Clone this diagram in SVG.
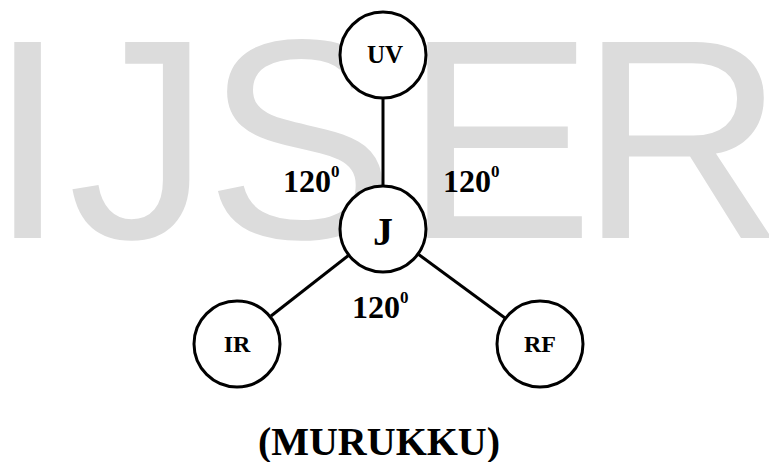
<svg xmlns="http://www.w3.org/2000/svg" width="769" height="462" viewBox="0 0 769 462">
<style>
.wm{font-family:"Liberation Sans",Arial,sans-serif;font-size:285px;fill:#dcdcdc}
.node{fill:#fff;stroke:#000;stroke-width:3}
.lbl{font-family:"Liberation Serif","Times New Roman",serif;font-weight:bold;fill:#000;text-anchor:middle}
.ang{font-family:"Liberation Serif","Times New Roman",serif;font-weight:bold;fill:#000;font-size:32px}
.sup{font-size:17px}
.conn{stroke:#000;stroke-width:3;fill:none}
</style>
<rect width="769" height="462" fill="#fff"/>
<text class="wm" x="-12 68 205 404 579" y="238">IJSER</text>
<g id="connectors">
<line class="conn" x1="383" y1="98" x2="383" y2="186"/>
<line class="conn" x1="349" y1="255" x2="271" y2="316"/>
<line class="conn" x1="418" y1="254" x2="505" y2="318"/>
</g>
<g id="node-UV"><circle class="node" cx="383" cy="55" r="43"/><text class="lbl" x="385" y="63" font-size="25">UV</text></g>
<g id="node-J"><circle class="node" cx="383" cy="229" r="43"/><text class="lbl" x="383" y="245" font-size="40">J</text></g>
<g id="node-IR"><circle class="node" cx="237" cy="344" r="43"/><text class="lbl" x="237" y="352" font-size="24">IR</text></g>
<g id="node-RF"><circle class="node" cx="540" cy="344" r="43"/><text class="lbl" x="540" y="352" font-size="24">RF</text></g>
<g id="labels">
<text class="ang" x="283" y="192">120<tspan class="sup" dy="-15">0</tspan></text>
<text class="ang" x="443" y="192">120<tspan class="sup" dy="-15">0</tspan></text>
<text class="ang" x="352" y="318">120<tspan class="sup" dy="-15">0</tspan></text>
<text class="lbl" x="379" y="455" font-size="40">(MURUKKU)</text>
</g>
</svg>
